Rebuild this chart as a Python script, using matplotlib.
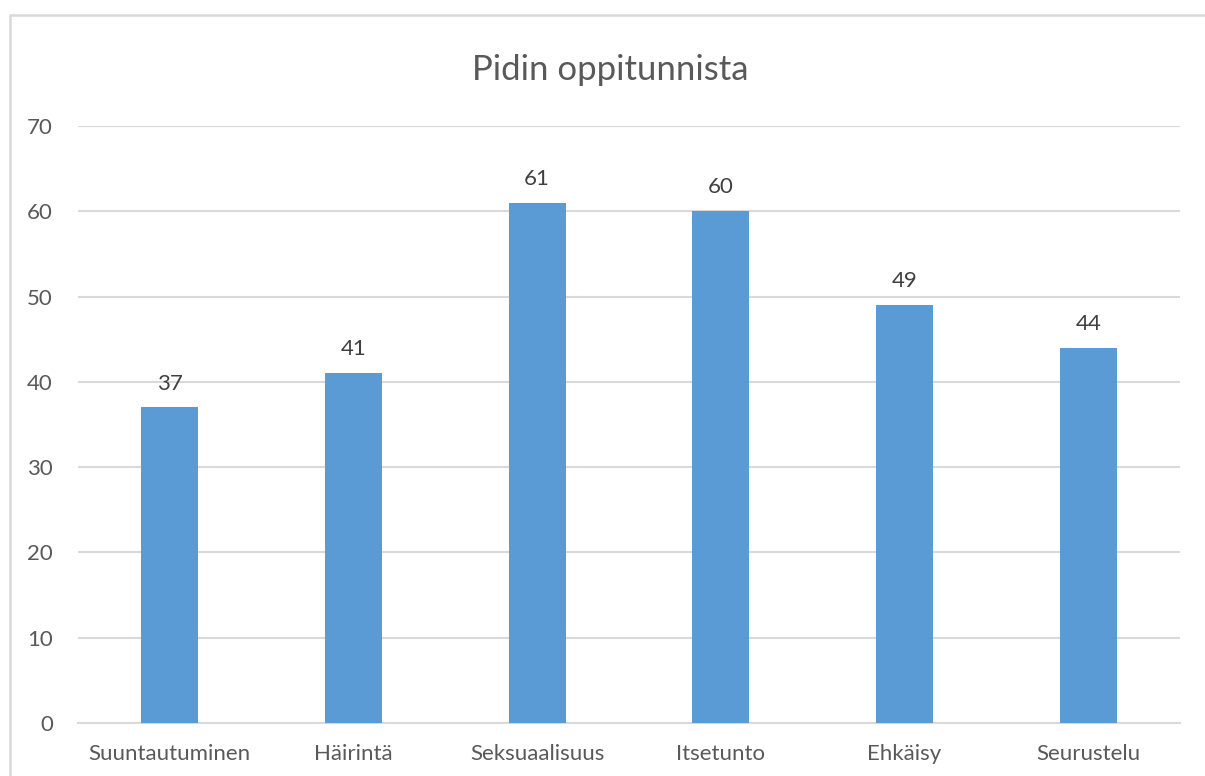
import matplotlib.pyplot as plt
from matplotlib.patches import Rectangle

# data
aiheet = ['Suuntautuminen', 'Häirintä', 'Seksuaalisuus', 'Itsetunto', 'Ehkäisy', 'Seurustelu']
arvot = [37, 41, 61, 60, 49, 44]
y_ticks = [0, 10, 20, 30, 40, 50, 60, 70]

plt.rcParams['font.family'] = ['Lato', 'DejaVu Sans']
teksti = '#595959'

fig = plt.figure(figsize=(12.05, 7.76), dpi=100)
ax = fig.add_axes([78 / 1205, 53 / 776, 1102 / 1205, 597 / 776])

# kehys
fig.patches.append(Rectangle((10 / 1205, -0.1), 1.2, (761 + 77.6) / 776,
                             transform=fig.transFigure, fill=False,
                             edgecolor='#D9D9D9', linewidth=1.8))

x_pos = range(len(aiheet))
palkit = ax.bar(x_pos, arvot, 0.31, color='#5B9BD5', zorder=3)
ax.bar_label(palkit, padding=10, fontsize=16, color='#404040')

ax.set_xlim(-0.5, len(aiheet) - 0.5)
ax.set_ylim(0, 70)
ax.set_yticks(y_ticks)
ax.set_xticks(x_pos)
ax.set_xticklabels(aiheet)
ax.grid(axis='y', color='#D9D9D9', linewidth=1.5, zorder=0)
ax.tick_params(length=0, labelsize=16, labelcolor=teksti)
ax.tick_params(axis='y', pad=18)
ax.tick_params(axis='x', pad=15)
for s in ['top', 'right', 'left']:
    ax.spines[s].set_visible(False)
ax.spines['bottom'].set_color('#D9D9D9')
ax.spines['bottom'].set_linewidth(1.5)

fig.text(610 / 1205, 1 - 70 / 776, 'Pidin oppitunnista', ha='center', va='center',
         fontsize=25, color=teksti)

fig.savefig('out.png', dpi=100)
